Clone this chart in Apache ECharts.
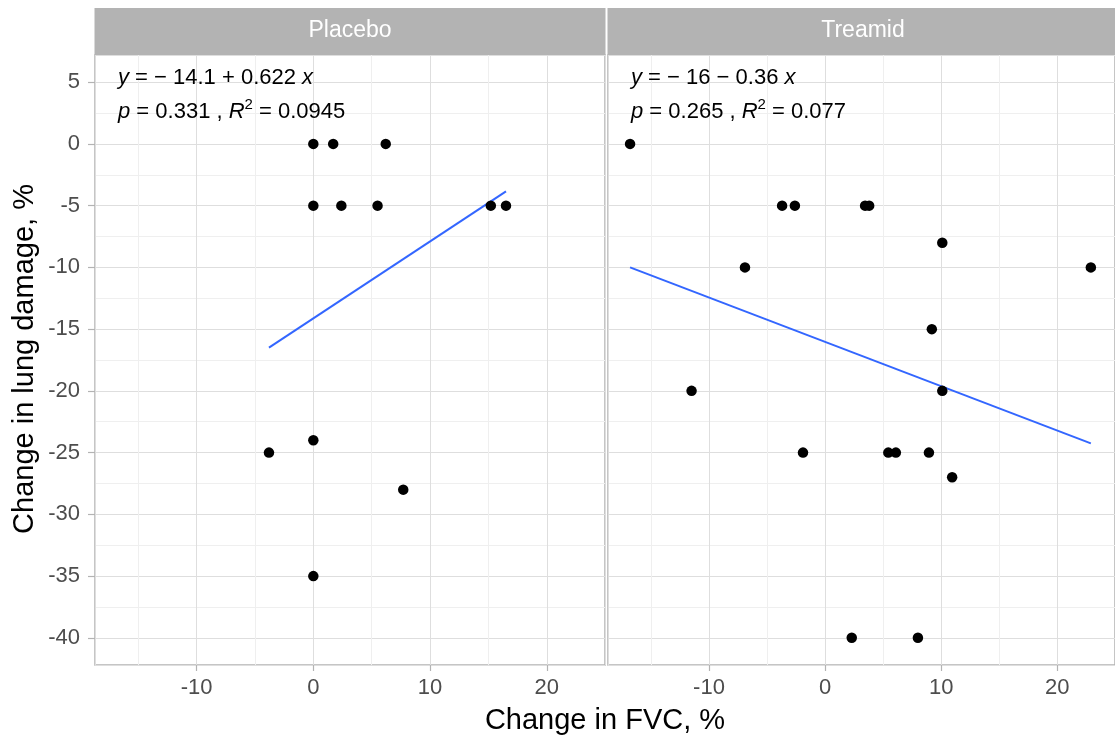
<!DOCTYPE html>
<html>
<head>
<meta charset="utf-8">
<title>Change in lung damage vs FVC</title>
<script src="https://cdn.jsdelivr.net/npm/echarts@6/dist/echarts.min.js"></script>
<style>
  html, body { margin: 0; padding: 0; background: #fff; }
  #chart { width: 1115px; height: 742px; }
</style>
</head>
<body>
<div id="chart"></div>
<script>
// data
const panels = ["Placebo", "Treamid"];

const placeboX = [0, 1.7, 6.2, 0, 2.4, 5.5, 15.2, 16.5, 0, -3.8, 7.7, 0];
const placeboY = [0, 0, 0, -5, -5, -5, -5, -5, -24, -25, -28, -35];

const treamidX = [-16.8, -3.7, -2.6, 3.45, 3.8, 10.1, -6.9, 22.9, 9.2, -11.5, 10.1, -1.9, 5.45, 6.1, 8.95, 10.95, 2.3, 8.0];
const treamidY = [0, -5, -5, -5, -5, -8, -10, -10, -15, -20, -20, -25, -25, -25, -25, -27, -40, -40];

// fitted lines (ends of the blue segments)
const placeboFitX = [-3.8, 16.5];
const placeboFitY = [-16.5, -3.85];
const treamidFitX = [-16.8, 22.9];
const treamidFitY = [-10.0, -24.25];

const eqLines = [
  ["{i|y} = − 14.1 + 0.622 {i|x}", "{i|p} = 0.331 , {i|R}{s|2} = 0.0945"],
  ["{i|y} = − 16 − 0.36 {i|x}", "{i|p} = 0.265 , {i|R}{s|2} = 0.077"]
];

// axis ranges; ticks come out at every 10 (x) and every 5 (y)
const xMin = -18.7, xMax = 24.98;
const yMin = -42.2, yMax = 7.2;

const font = "'Liberation Sans', Arial, sans-serif";
const panelLeft = [95, 608];
const panelWidth = 510;
const panelTop = 55;
const panelHeight = 610;

const zip = (xs, ys) => xs.map((x, i) => [x, ys[i]]);

const chart = echarts.init(document.getElementById("chart"));

const grids = panelLeft.map(left => ({
  left: left,
  top: panelTop,
  width: panelWidth,
  height: panelHeight,
  show: true,
  backgroundColor: "#fff",
  borderColor: "#b3b3b3",
  borderWidth: 1.5
}));

const xAxes = panelLeft.map((_, i) => ({
  type: "value",
  gridIndex: i,
  min: xMin,
  max: xMax,
  splitNumber: 5,
  axisLine: { show: false, onZero: false },
  axisTick: { show: true, length: 6, lineStyle: { color: "#b3b3b3", width: 1.2 } },
  axisLabel: {
    showMinLabel: false,
    showMaxLabel: false,
    color: "#4d4d4d",
    fontSize: 22,
    fontFamily: font,
    margin: 12
  },
  splitLine: { show: true, lineStyle: { color: "#dedede", width: 1 } },
  minorTick: { show: false, splitNumber: 2 },
  minorSplitLine: { show: true, lineStyle: { color: "#efefef", width: 1 } }
}));

const yAxes = panelLeft.map((_, i) => ({
  type: "value",
  gridIndex: i,
  min: yMin,
  max: yMax,
  splitNumber: 10,
  axisLine: { show: false, onZero: false },
  axisTick: { show: i === 0, length: 7, lineStyle: { color: "#b3b3b3", width: 1.2 } },
  axisLabel: {
    show: i === 0,
    showMinLabel: false,
    showMaxLabel: false,
    color: "#4d4d4d",
    fontSize: 22,
    fontFamily: font,
    margin: 15
  },
  splitLine: { show: true, lineStyle: { color: "#dedede", width: 1 } },
  minorTick: { show: false, splitNumber: 2 },
  minorSplitLine: { show: true, lineStyle: { color: "#efefef", width: 1 } }
}));

const pointSeries = (name, i, xs, ys) => ({
  name: name,
  type: "scatter",
  xAxisIndex: i,
  yAxisIndex: i,
  data: zip(xs, ys),
  symbolSize: 10.5,
  itemStyle: { color: "#000", opacity: 1 },
  z: 4
});

const fitSeries = (name, i, xs, ys) => ({
  name: name + " fit",
  type: "line",
  xAxisIndex: i,
  yAxisIndex: i,
  data: zip(xs, ys),
  showSymbol: false,
  lineStyle: { color: "#3366ff", width: 2 },
  z: 3
});

const graphics = [];
panels.forEach((name, i) => {
  graphics.push({
    type: "rect",
    shape: { x: panelLeft[i] - 0.5, y: 8, width: panelWidth + 1, height: panelTop - 8 },
    style: { fill: "#b3b3b3" }
  });
  graphics.push({
    type: "text",
    x: panelLeft[i] + panelWidth / 2,
    y: 31,
    style: { text: name, fill: "#fff", font: "23px " + font, textAlign: "center", textVerticalAlign: "middle" }
  });
  eqLines[i].forEach((line, j) => {
    graphics.push({
      type: "text",
      x: panelLeft[i] + 23,
      y: 78 + j * 34,
      z: 10,
      style: {
        text: line,
        fill: "#000",
        fontSize: 22,
        fontFamily: font,
        lineHeight: 30,
        textAlign: "left",
        textVerticalAlign: "middle",
        rich: {
          i: { fontStyle: "italic", fontSize: 22, fontFamily: font, fill: "#000" },
          s: { fontSize: 15, lineHeight: 15, verticalAlign: "top", fontFamily: font, fill: "#000" }
        }
      }
    });
  });
});

graphics.push({
  type: "text",
  x: 605,
  y: 721,
  style: { text: "Change in FVC, %", fill: "#000", font: "29px " + font, textAlign: "center", textVerticalAlign: "middle" }
});
graphics.push({
  type: "text",
  x: 25,
  y: 359,
  rotation: Math.PI / 2,
  style: { text: "Change in lung damage, %", fill: "#000", font: "29px " + font, textAlign: "center", textVerticalAlign: "middle" }
});

chart.setOption({
  animation: false,
  backgroundColor: "#fff",
  grid: grids,
  xAxis: xAxes,
  yAxis: yAxes,
  series: [
    pointSeries("Placebo", 0, placeboX, placeboY),
    fitSeries("Placebo", 0, placeboFitX, placeboFitY),
    pointSeries("Treamid", 1, treamidX, treamidY),
    fitSeries("Treamid", 1, treamidFitX, treamidFitY)
  ],
  graphic: graphics
});
</script>
</body>
</html>
